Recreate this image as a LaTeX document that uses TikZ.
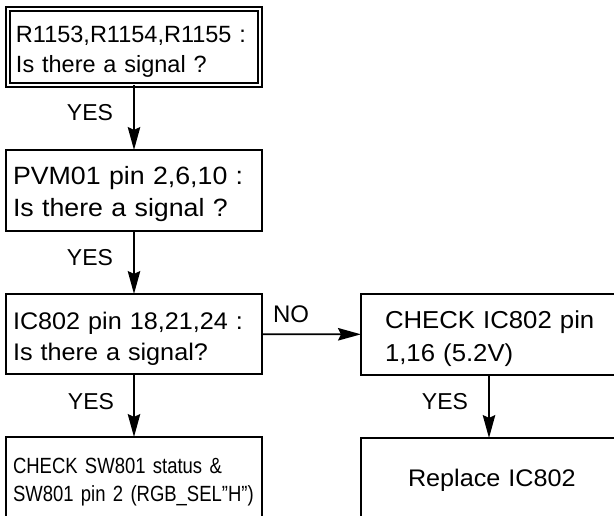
\documentclass[tikz,border=0pt]{standalone}
\usepackage{fontspec}
\setmainfont{Liberation Sans}
\newfontfamily\narrowsans[FakeStretch=0.84]{Liberation Sans}
\newfontfamily\midsans[FakeStretch=1.05]{Liberation Sans}
\newfontfamily\widesans[FakeStretch=1.07]{Liberation Sans}
\usetikzlibrary{arrows.meta}

\begin{document}
\begin{tikzpicture}[x=1pt, y=-1pt, line width=1.8pt,
  >={Stealth[length=23pt, width=12.5pt, inset=3pt]},
  box/.style={draw, rectangle, anchor=north west, outer sep=0pt, inner xsep=7pt,
    align=left, text width=242pt, minimum width=256pt,
    execute at begin node={\rule{0pt}{26pt}},
    font=\fontsize{24}{31}\selectfont},
  lowbox/.style={box, execute at begin node={}, execute at end node={\rule[-#1]{0pt}{#1}}},
  lbl/.style={inner sep=0pt, font=\fontsize{23}{27}\selectfont}]
  \clip (0,0) rectangle (614,516);
  % left column
  \node[box, double, double distance=2.6pt, line width=1.4pt, inner xsep=8pt,
    text width=236pt, minimum width=252pt, minimum height=76pt,
    font=\fontsize{23.5}{30}\selectfont] (r115x) at (8,9)
    {R1153,R1154,R1155 :\\Is there a signal ?};
  \node[box, minimum height=81pt, font=\widesans\fontsize{25}{32}\selectfont] (pvm01) at (6,150)
    {PVM01 pin 2,6,10 :\\Is there a signal ?};
  \node[box, minimum height=80pt, font=\midsans\fontsize{24}{31}\selectfont] (ic802sig) at (6,294)
    {\mbox{IC802 pin 18,21,24 :}\\Is there a signal?};
  \node[lowbox=12pt, minimum height=86pt,
    font=\narrowsans\fontsize{22}{28}\selectfont] (sw801) at (6,437)
    {CHECK SW801 status \&\\\mbox{SW801 pin 2 (RGB\_SEL”H”)}};
  % right column
  \node[box, inner xsep=24pt, text width=208pt, minimum height=81pt,
    font=\midsans\fontsize{24.5}{33}\selectfont] (ic802pwr) at (361,294)
    {\mbox{CHECK IC802 pin}\\1,16 (5.2V)};
  \node[lowbox=17pt, inner xsep=47pt, text width=162pt, minimum height=87pt,
    font=\midsans\fontsize{24}{30}\selectfont] (replace) at (361,438)
    {\mbox{Replace IC802}};
  % labels
  \node[lbl] (yes1) at (90,113) {YES};
  \node[lbl] (yes2) at (90,258) {YES};
  \node[lbl] (yes3) at (91,402) {YES};
  \node[lbl] (yes4) at (445,402) {YES};
  \node[lbl, font=\fontsize{24}{28}\selectfont] (no1) at (291,314) {NO};
  % arrows
  \draw[->] (r115x) -- (pvm01);
  \draw[->] (pvm01) -- (ic802sig);
  \draw[->] (ic802sig) -- (sw801);
  \draw[->] (ic802sig) -- (ic802pwr);
  \draw[->] (ic802pwr) -- (replace);
\end{tikzpicture}
\end{document}
